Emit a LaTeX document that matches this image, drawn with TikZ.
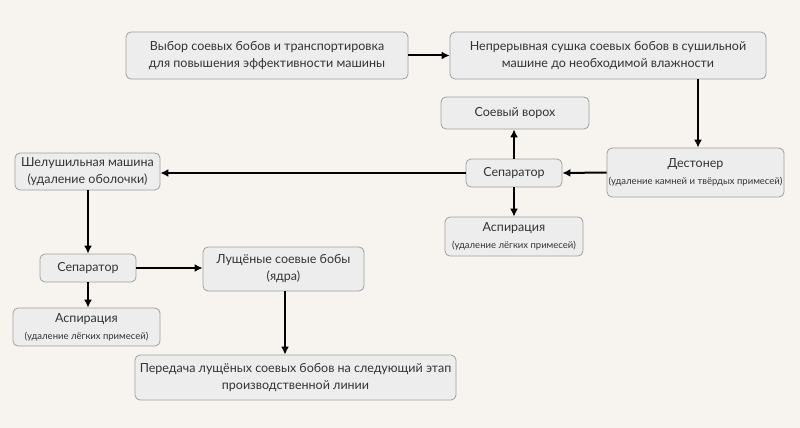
\documentclass[tikz,border=0pt]{standalone}
\usepackage{fontspec}
\setmainfont{Lato}
\usetikzlibrary{arrows.meta}
\definecolor{bg}{HTML}{F7F4F0}
\definecolor{boxfill}{HTML}{EDEDED}
\definecolor{boxline}{HTML}{A0A0A0}
\definecolor{txt}{HTML}{333333}
\tikzset{
  box/.style={draw=boxline, fill=boxfill, rounded corners=5pt, line width=0.8pt,
    align=center, text=txt, font=\fontsize{12.5}{17}\selectfont, inner sep=0pt},
  arr/.style={-{Latex[length=8pt,width=8pt]}, line width=2pt, black},
}
\newcommand{\subt}[1]{{\fontsize{9.5}{14}\selectfont #1}}
\begin{document}
\begin{tikzpicture}[x=1pt,y=-1pt]
\useasboundingbox[fill=bg] (0,0) rectangle (800,428);
\node[box, minimum width=282pt, minimum height=47pt] (n1) at (267,55.5) {Выбор соевых бобов и транспортировка\\для повышения эффективности машины};
\node[box, minimum width=316pt, minimum height=47pt] (n2) at (608,55.5) {Непрерывная сушка соевых бобов в сушильной\\машине до необходимой влажности};
\node[box, minimum width=148pt, minimum height=32pt] (n3) at (515,113) {Соевый ворох};
\node[box, minimum width=96pt, minimum height=28pt] (n4) at (514,173) {Сепаратор};
\node[box, minimum width=138pt, minimum height=39pt] (n5) at (514,236.5) {Аспирация\\\subt{(удаление лёгких примесей)}};
\node[box, minimum width=177pt, minimum height=49pt] (n6) at (695.5,172.5) {Дестонер\\\subt{(удаление камней и твёрдых примесей)}};
\node[box, minimum width=145pt, minimum height=37pt] (n7) at (87.5,171.5) {Шелушильная машина\\(удаление оболочки)};
\node[box, minimum width=96pt, minimum height=28pt] (n8) at (88,268) {Сепаратор};
\node[box, minimum width=147pt, minimum height=38pt] (n9) at (86.5,327) {Аспирация\\\subt{(удаление лёгких примесей)}};
\node[box, minimum width=161pt, minimum height=44pt] (n10) at (283.5,269) {Лущёные соевые бобы\\(ядра)};
\node[box, minimum width=321pt, minimum height=45pt] (n11) at (295.5,377.5) {Передача лущёных соевых бобов на следующий этап\\производственной линии};
\draw[arr] (n1.east) -- (n2.west);
\draw[arr] (n2.south -| 698,0) -- (n6.north -| 698,0);
\draw[arr] (n6.west) -- (n4.east);
\draw[arr] (n4.north) -- (n3.south -| n4.north);
\draw[arr] (n4.south) -- (n5.north -| n4.south);
\draw[arr] (n4.west) -- (n7.east |- n4.west);
\draw[arr] (n7.south -| 88,0) -- (n8.north);
\draw[arr] (n8.south) -- (n9.north -| n8.south);
\draw[arr] (n8.east) -- (n10.west |- n8.east);
\draw[arr] (n10.south -| 285,0) -- (n11.north -| 285,0);
\end{tikzpicture}
\end{document}
